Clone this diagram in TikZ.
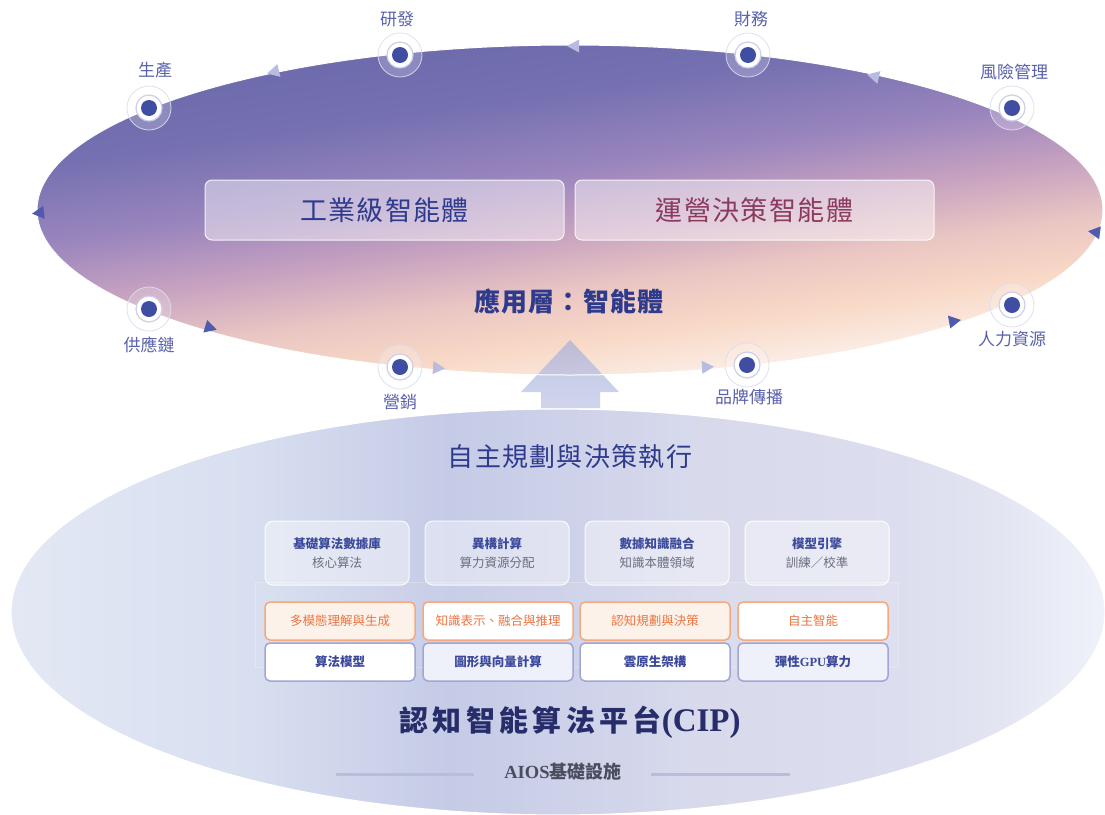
\documentclass[tikz,border=0pt]{standalone}
\usepackage{fontspec}
\setmainfont{Liberation Serif}
\newfontfamily\cjk{Noto Sans CJK TC}
\newfontfamily\cjkw[LetterSpace=5]{Noto Sans CJK TC}
\newfontfamily\cjkww[LetterSpace=15]{Noto Sans CJK TC}
\newfontfamily\serifb{Liberation Serif}
\definecolor{tgA}{HTML}{6C6AAC}
\definecolor{tgB}{HTML}{7470B1}
\definecolor{tgC}{HTML}{9A85BD}
\definecolor{tgD}{HTML}{C6A1C0}
\definecolor{tgE}{HTML}{EAC6C3}
\definecolor{tgF}{HTML}{F8D8C6}
\definecolor{tgG}{HTML}{FBEDE5}
\definecolor{bgA}{HTML}{E3E8F4}
\definecolor{bgB}{HTML}{D8DFF0}
\definecolor{bgC}{HTML}{C5CBE6}
\definecolor{bgD}{HTML}{CDD1E9}
\definecolor{bgE}{HTML}{D8DAEC}
\definecolor{bgF}{HTML}{DCDDEE}
\definecolor{bgG}{HTML}{E3E5F2}
\definecolor{bgH}{HTML}{F0F2FA}
\definecolor{navy}{HTML}{2E3A8C}
\definecolor{maroon}{HTML}{8B3A5F}
\definecolor{cipc}{HTML}{272C6A}
\definecolor{labc}{HTML}{5A62AA}
\definecolor{cardt}{HTML}{3C4A9C}
\definecolor{cards}{HTML}{6A6E7E}
\definecolor{orangt}{HTML}{EC7440}
\definecolor{orangb}{HTML}{F5A97C}
\definecolor{orangf}{HTML}{FDF2EA}
\definecolor{blueb}{HTML}{A1A6D6}
\definecolor{bluef}{HTML}{EEF0FA}
\definecolor{bluet}{HTML}{3B479A}
\definecolor{aiosc}{HTML}{4A4D5E}
\definecolor{linec}{HTML}{B9BDDC}
\definecolor{dotc}{HTML}{3F4EA2}
\definecolor{ringin}{HTML}{CDCFE9}
\definecolor{ringout}{HTML}{DCDDEF}
\definecolor{tridark}{HTML}{4E5BAE}
\definecolor{trilight}{HTML}{B8BCE0}
\definecolor{arrtop}{HTML}{A6AFDA}
\definecolor{arrbot}{HTML}{BCC4E6}
\pgfdeclareverticalshading{topgrad}{100bp}{color(0bp)=(tgG); color(29.5bp)=(tgG); color(35.2bp)=(tgF); color(40.9bp)=(tgE); color(47.7bp)=(tgD); color(54.5bp)=(tgC); color(63.6bp)=(tgB); color(72.7bp)=(tgA); color(100bp)=(tgA)}
\pgfdeclarehorizontalshading{botgrad}{100bp}{color(0bp)=(bgA); color(25bp)=(bgA); color(35.9bp)=(bgB); color(45bp)=(bgC); color(50bp)=(bgD); color(56.5bp)=(bgE); color(65.6bp)=(bgF); color(70.2bp)=(bgG); color(75bp)=(bgH); color(100bp)=(bgH)}
\tikzset{
  mk/.style={circle, minimum size=26, inner sep=0, fill=white, draw=ringin, line width=1.2,
    path picture={\fill[dotc] (path picture bounding box.center) circle [radius=8];}},
  ringo/.style={fill=white, fill opacity=0.2, draw=ringout, draw opacity=0.9, line width=0.8},
  lab/.style={font=\cjk\fontsize{17}{20}\selectfont, text=labc, inner sep=0},
  tridk/.style={fill=tridark},
  trilt/.style={fill=trilight},
  topbox/.style={rectangle, rounded corners=7, minimum width=359, minimum height=60, fill=white, fill opacity=0.45, draw=white, draw opacity=0.85, line width=1, text opacity=1},
  card/.style={rectangle, rounded corners=8, minimum width=144, minimum height=64, fill=white, fill opacity=0.4, draw=white, draw opacity=0.9, line width=1, text opacity=1, align=center, inner sep=0},
  orow/.style={rectangle, rounded corners=5, minimum width=150, minimum height=38, draw=orangb, line width=1.5, text=orangt, font=\cjk\fontsize{12.5}{14}\selectfont, inner sep=0},
  brow/.style={rectangle, rounded corners=5, minimum width=150, minimum height=38, draw=blueb, line width=1.5, text=bluet, font=\cjk\bfseries\fontsize{12.5}{14}\selectfont, inner sep=0},
}
\begin{document}
\begin{tikzpicture}[x=1pt,y=-1pt]
\useasboundingbox (0,0) rectangle (1105,814);
\fill[white] (0,0) rectangle (1105,814);
% bottom ellipse
\shade[shading=botgrad, draw=white, line width=1.2] (558,612) ellipse [x radius=547, y radius=203];
% top ellipse
\begin{scope}
  \clip (570,210) ellipse [x radius=533, y radius=165];
  \begin{scope}[transform canvas={rotate around={8:(570,210)}}]
    \shade[shading=topgrad] (-150,-10) rectangle (1290,430);
  \end{scope}
\end{scope}
% up arrow
\shade[top color=arrtop, bottom color=arrbot, opacity=0.7] (570,340) -- (619,392) -- (600,392) -- (600,408) -- (541,408) -- (541,392) -- (521,392) -- cycle;
\draw[white, line width=1] (570,210) ellipse [x radius=533, y radius=165];
% arrowheads on the loop
\fill[trilt, shift={(273,72)}, rotate=194] (6,0) -- (-6,6.5) -- (-6,-6.5) -- cycle;
\fill[trilt, shift={(573,46)}, rotate=180] (6,0) -- (-6,6.5) -- (-6,-6.5) -- cycle;
\fill[trilt, shift={(873,76)}, rotate=166] (6,0) -- (-6,6.5) -- (-6,-6.5) -- cycle;
\fill[tridk, shift={(1094,232)}, rotate=172] (6,0) -- (-6,6.5) -- (-6,-6.5) -- cycle;
\fill[tridk, shift={(38,213)}, rotate=186] (6,0) -- (-6,6.5) -- (-6,-6.5) -- cycle;
\fill[tridk, shift={(211,328)}, rotate=-17] (6,0) -- (-6,6.5) -- (-6,-6.5) -- cycle;
\fill[trilt, shift={(439,368)}, rotate=-4] (6,0) -- (-6,6.5) -- (-6,-6.5) -- cycle;
\fill[trilt, shift={(708,367)}, rotate=3] (6,0) -- (-6,6.5) -- (-6,-6.5) -- cycle;
\fill[tridk, shift={(955,321)}, rotate=10] (6,0) -- (-6,6.5) -- (-6,-6.5) -- cycle;
% markers
\foreach \n/\x/\y in {m1/149/108, m2/400/55, m3/748/55, m4/1012/108, m5/149/309, m6/400/367, m7/747/365, m8/1012/305}{
  \draw[ringo] (\x,\y) circle [radius=22];
  \node[mk] (\n) at (\x,\y) {};
}
\node[lab] (l1) at (155,70) {生產};
\node[lab] (l2) at (397,19) {研發};
\node[lab] (l3) at (751,19) {財務};
\node[lab] (l4) at (1014,72) {風險管理};
\node[lab] (l5) at (149,345) {供應鏈};
\node[lab] (l6) at (400,402) {營銷};
\node[lab] (l7) at (749,397) {品牌傳播};
\node[lab] (l8) at (1012,339) {人力資源};
% top boxes
\node[topbox, text=navy, font=\cjkw\fontsize{27}{30}\selectfont] (b1) at (384.5,210) {工業級智能體};
\node[topbox, text=maroon, font=\cjkw\fontsize{27}{30}\selectfont] (b2) at (754.5,210) {運營決策智能體};
\node[text=navy, font=\cjkw\bfseries\fontsize{26}{30}\selectfont, inner sep=0] (app) at (569,301) {應用層：智能體};
% bottom platform
\node[text=navy, font=\cjkw\fontsize{26}{30}\selectfont, inner sep=0] (auto) at (570,457) {自主規劃與決策執行};
\path[fill=white, fill opacity=0.06, draw=white, draw opacity=0.25, line width=0.6] (255,582) rectangle (898,667);
\foreach \n/\x/\t/\s in {c1/337/基礎算法數據庫/核心算法, c2/497/異構計算/算力資源分配, c3/657/數據知識融合/知識本體領域, c4/817/模型引擎/訓練／校準}{
  \node[card] (\n) at (\x,553) {{\cjk\bfseries\fontsize{12.5}{19}\selectfont\color{cardt}\t}\\[7pt]{\cjk\fontsize{12.5}{15}\selectfont\color{cards}\s}};
}
\node[orow, fill=orangf] (o1) at (340,621) {多模態理解與生成};
\node[orow, fill=white] (o2) at (498,621) {知識表示、融合與推理};
\node[orow, fill=orangf] (o3) at (655,621) {認知規劃與決策};
\node[orow, fill=white] (o4) at (813,621) {自主智能};
\node[brow, fill=white] (r1) at (340,662) {算法模型};
\node[brow, fill=bluef] (r2) at (498,662) {圖形與向量計算};
\node[brow, fill=white] (r3) at (655,662) {雲原生架構};
\node[brow, fill=bluef] (r4) at (813,662) {彈性{\serifb\bfseries GPU}算力};
\node[text=cipc, inner sep=0] (cip) at (570,722) {{\cjkww\bfseries\fontsize{29}{32}\selectfont 認知智能算法平台}{\serifb\bfseries\fontsize{33}{33}\selectfont (CIP)}};
\node[text=aiosc, inner sep=0] (aios) at (563,772) {{\serifb\bfseries\fontsize{18.5}{20}\selectfont AIOS}{\cjk\bfseries\fontsize{18}{20}\selectfont 基礎設施}};
\coordinate (la) at (336,774); \coordinate (lb) at (474,774);
\coordinate (lc) at (651,774); \coordinate (ld) at (790,774);
\draw[linec, line width=3] (la) -- (lb);
\draw[linec, line width=3] (lc) -- (ld);
\end{tikzpicture}
\end{document}
